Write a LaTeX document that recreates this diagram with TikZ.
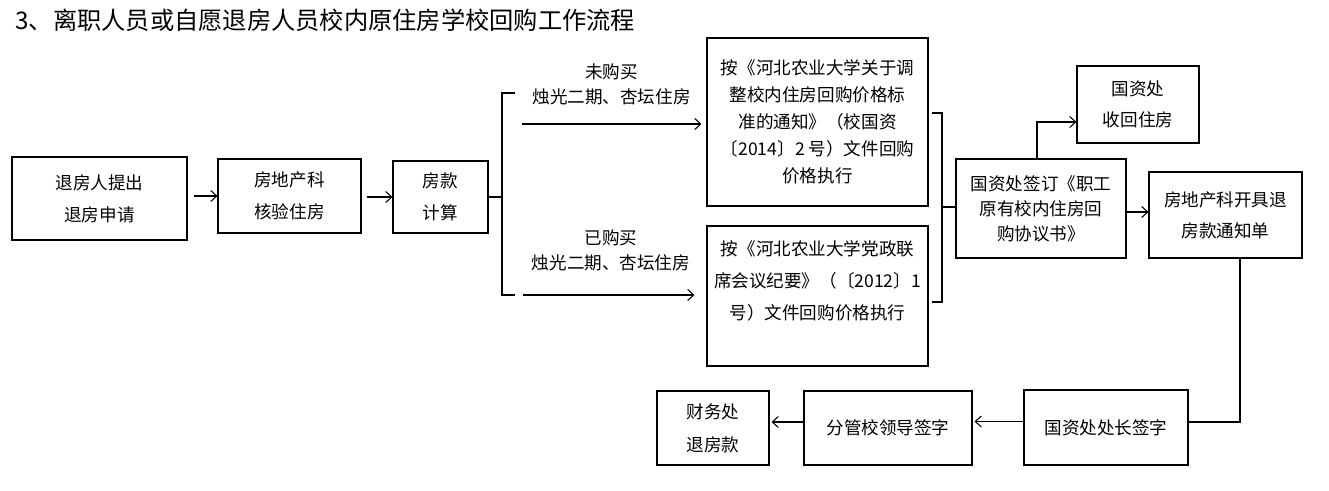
\documentclass[tikz,border=0pt]{standalone}
\usepackage{fontspec}
\newfontfamily\cjk{Noto Sans CJK SC}
\usetikzlibrary{arrows.meta}

\begin{document}
\begin{tikzpicture}[line width=0.6pt, >={Straight Barb[length=1.2mm,width=2.2mm]},
  every node/.style={font=\cjk\fontsize{10}{18}\selectfont},
  box/.style={draw,line width=0.6pt,align=center,inner sep=0pt},
  lead/.style={font=\cjk\fontsize{10}{#1}\selectfont,align=center}]
\useasboundingbox (0,0) rectangle (26.58,-9.82);
\node[anchor=west,font=\cjk\fontsize{13.8}{16}\selectfont] (title) at (0.18,-0.40) {3、离职人员或自愿退房人员校内原住房学校回购工作流程};
% first row
\node[box,minimum width=3.50cm,minimum height=1.66cm] (apply) at (1.99,-3.97) {退房人提出\\退房申请};
\node[box,minimum width=2.86cm,minimum height=1.48cm] (check) at (5.79,-3.92) {房地产科\\核验住房};
\node[box,minimum width=1.90cm,minimum height=1.44cm] (calc) at (8.81,-3.94) {房款\\计算};
\draw[->,shorten <=0.12cm] (apply.east |- check) -- (check);
\draw[->,shorten <=0.10cm] (check.east |- calc) -- (calc);
% fork
\coordinate (fork) at (10.04,-3.94);
\draw (calc.east) -- (fork);
\draw (10.30,-1.86) -- (10.04,-1.86) -- (10.04,-5.90) -- (10.30,-5.90);
\node[lead=14.2pt] (notBought) at (12.23,-1.69) {未购买\\烛光二期、杏坛住房};
\node[lead=14.2pt] (bought) at (12.22,-5.01) {已购买\\烛光二期、杏坛住房};
\node[box,lead=15.4pt,minimum width=4.42cm,minimum height=3.36cm] (stdA) at (16.35,-2.44)
  {按《河北农业大学关于调\\整校内住房回购价格标\\准的通知》（校国资\\〔2014〕2 号）文件回购\\价格执行};
\node[box,lead=18.1pt,minimum width=4.42cm,minimum height=2.80cm] (stdB) at (16.35,-5.92)
  {按《河北农业大学党政联\\席会议纪要》（〔2012〕1\\号）文件回购价格执行\\ \mbox{}};
\coordinate (upA) at (10.44,-2.48); \coordinate (upB) at (10.46,-5.90);
\draw[->,shorten >=0.10cm] (upA) -- (upA -| stdA.west);
\draw[->,shorten >=0.24cm] (upB) -- (upB -| stdB.west);
% join
\draw (18.64,-2.26) -- (18.84,-2.26) -- (18.84,-6.04) -- (18.64,-6.04);
\coordinate (join) at (18.84,-4.14);
\node[box,lead=14.2pt,minimum width=3.40cm,minimum height=1.98cm] (sign) at (20.82,-4.17) {国资处签订《职工\\原有校内住房回\\购协议书》};
\draw (join) -- (join -| sign.west);
\node[box,lead=17.6pt,minimum width=2.44cm,minimum height=1.54cm] (reclaim) at (22.76,-2.09) {国资处\\收回住房};
\node[box,lead=17.6pt,minimum width=3.06cm,minimum height=1.72cm] (notice) at (24.51,-4.30) {房地产科开具退\\房款通知单};
\draw[->] ([xshift=-0.08cm]sign.north) |- ([yshift=-0.35cm]reclaim.west);
\draw[->] ([yshift=-0.07cm]sign.east) -- ([yshift=-0.07cm]sign.east -| notice.west);
% bottom row
\node[box,minimum width=3.28cm,minimum height=1.50cm] (chief) at (22.12,-8.55) {国资处处长签字};
\node[box,minimum width=3.36cm,minimum height=1.48cm] (leader) at (17.76,-8.56) {分管校领导签字};
\node[box,lead=18.7pt,minimum width=2.24cm,minimum height=1.48cm] (finance) at (14.26,-8.56) {财务处\\退房款};
\draw ([xshift=0.29cm]notice.south) |- ([yshift=0.11cm]chief.east);
\draw[->,shorten >=0.04cm] ([yshift=0.12cm]chief.west) -- ([yshift=0.12cm]chief.west -| leader.east);
\draw[->,shorten >=0.04cm] ([yshift=0.12cm]leader.west) -- ([yshift=0.12cm]leader.west -| finance.east);
\end{tikzpicture}
\end{document}
